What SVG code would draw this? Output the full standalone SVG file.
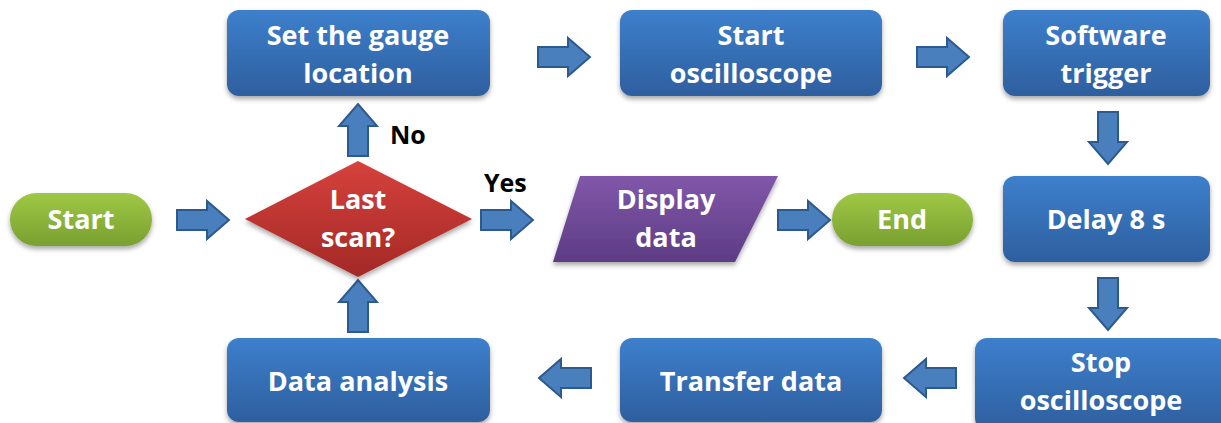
<svg xmlns="http://www.w3.org/2000/svg" width="1221" height="423" viewBox="0 0 1221 423">
<defs>
<linearGradient id="gBlue" x1="0" y1="0" x2="0" y2="1"><stop offset="0" stop-color="#3d7fcc"/><stop offset="1" stop-color="#2e5f9f"/></linearGradient>
<linearGradient id="gGreen" x1="0" y1="0" x2="0" y2="1"><stop offset="0" stop-color="#9fc845"/><stop offset="1" stop-color="#79a030"/></linearGradient>
<linearGradient id="gRed" x1="0" y1="0" x2="0" y2="1"><stop offset="0" stop-color="#d6413c"/><stop offset="1" stop-color="#a32926"/></linearGradient>
<linearGradient id="gPurple" x1="0" y1="0" x2="0" y2="1"><stop offset="0" stop-color="#8157a9"/><stop offset="1" stop-color="#5d3c84"/></linearGradient>
<filter id="sh" x="-10%" y="-10%" width="120%" height="130%"><feDropShadow dx="0" dy="3" stdDeviation="2.5" flood-color="#000" flood-opacity="0.35"/></filter>
<path id="arr" d="M-26,-10 H4 V-19 L26,0 L4,19 V10 H-26 Z"/>
</defs>
<style>
.t{font-family:"Open Sans","Liberation Sans",sans-serif;font-weight:700;font-size:27px;fill:#fff;text-anchor:middle}
.l{font-family:"Open Sans","Liberation Sans",sans-serif;font-weight:700;font-size:25px;fill:#000}
.blue{fill:url(#gBlue);filter:url(#sh)}
.green{fill:url(#gGreen);filter:url(#sh)}
.a{fill:#4a7fbd;stroke:#2d5a8e;stroke-width:2}
</style>
<rect width="1221" height="423" fill="#fff"/>
<g id="connectors">
<use href="#arr" class="a" transform="translate(203,220)"/>
<use href="#arr" class="a" transform="translate(507,220)"/>
<use href="#arr" class="a" transform="translate(804,220)"/>
<use href="#arr" class="a" transform="translate(564,57)"/>
<use href="#arr" class="a" transform="translate(943,57)"/>
<use href="#arr" class="a" transform="translate(1108,138) rotate(90)"/>
<use href="#arr" class="a" transform="translate(1108,304) rotate(90)"/>
<use href="#arr" class="a" transform="translate(930,378) rotate(180)"/>
<use href="#arr" class="a" transform="translate(565,378) rotate(180)"/>
<use href="#arr" class="a" transform="translate(358,306) rotate(-90)"/>
<use href="#arr" class="a" transform="translate(358,130) rotate(-90)"/>
<text class="l" x="390" y="144">No</text>
<text class="l" x="484" y="192">Yes</text>
</g>
<g id="start"><rect class="green" x="10" y="193" width="142" height="53" rx="26.5"/><text class="t" x="81" y="229">Start</text></g>
<g id="decision"><polygon points="358,161 472,219 358,277 245,219" fill="url(#gRed)" filter="url(#sh)"/><text class="t" x="358" y="209">Last</text><text class="t" x="358" y="247">scan?</text></g>
<g id="gauge"><rect class="blue" x="227" y="10" width="263" height="86" rx="12"/><text class="t" x="358" y="45">Set the gauge</text><text class="t" x="358" y="83">location</text></g>
<g id="startosc"><rect class="blue" x="620" y="10" width="262" height="86" rx="12"/><text class="t" x="751" y="45">Start</text><text class="t" x="751" y="83">oscilloscope</text></g>
<g id="software"><rect class="blue" x="1003" y="10" width="207" height="86" rx="12"/><text class="t" x="1106" y="45">Software</text><text class="t" x="1106" y="83">trigger</text></g>
<g id="delay"><rect class="blue" x="1003" y="176" width="207" height="86" rx="12"/><text class="t" x="1106" y="229">Delay 8 s</text></g>
<g id="stop"><rect class="blue" x="975" y="338" width="252" height="92" rx="12"/><text class="t" x="1101" y="372">Stop</text><text class="t" x="1101" y="410">oscilloscope</text></g>
<g id="transfer"><rect class="blue" x="620" y="338" width="262" height="84" rx="12"/><text class="t" x="751" y="391">Transfer data</text></g>
<g id="analysis"><rect class="blue" x="227" y="338" width="263" height="84" rx="12"/><text class="t" x="358" y="391">Data analysis</text></g>
<g id="display"><polygon points="580,176 778,176 735,262 553,262" fill="url(#gPurple)" filter="url(#sh)"/><text class="t" x="666" y="209">Display</text><text class="t" x="666" y="247">data</text></g>
<g id="end"><rect class="green" x="832" y="193" width="141" height="53" rx="26.5"/><text class="t" x="902" y="229">End</text></g>
</svg>
